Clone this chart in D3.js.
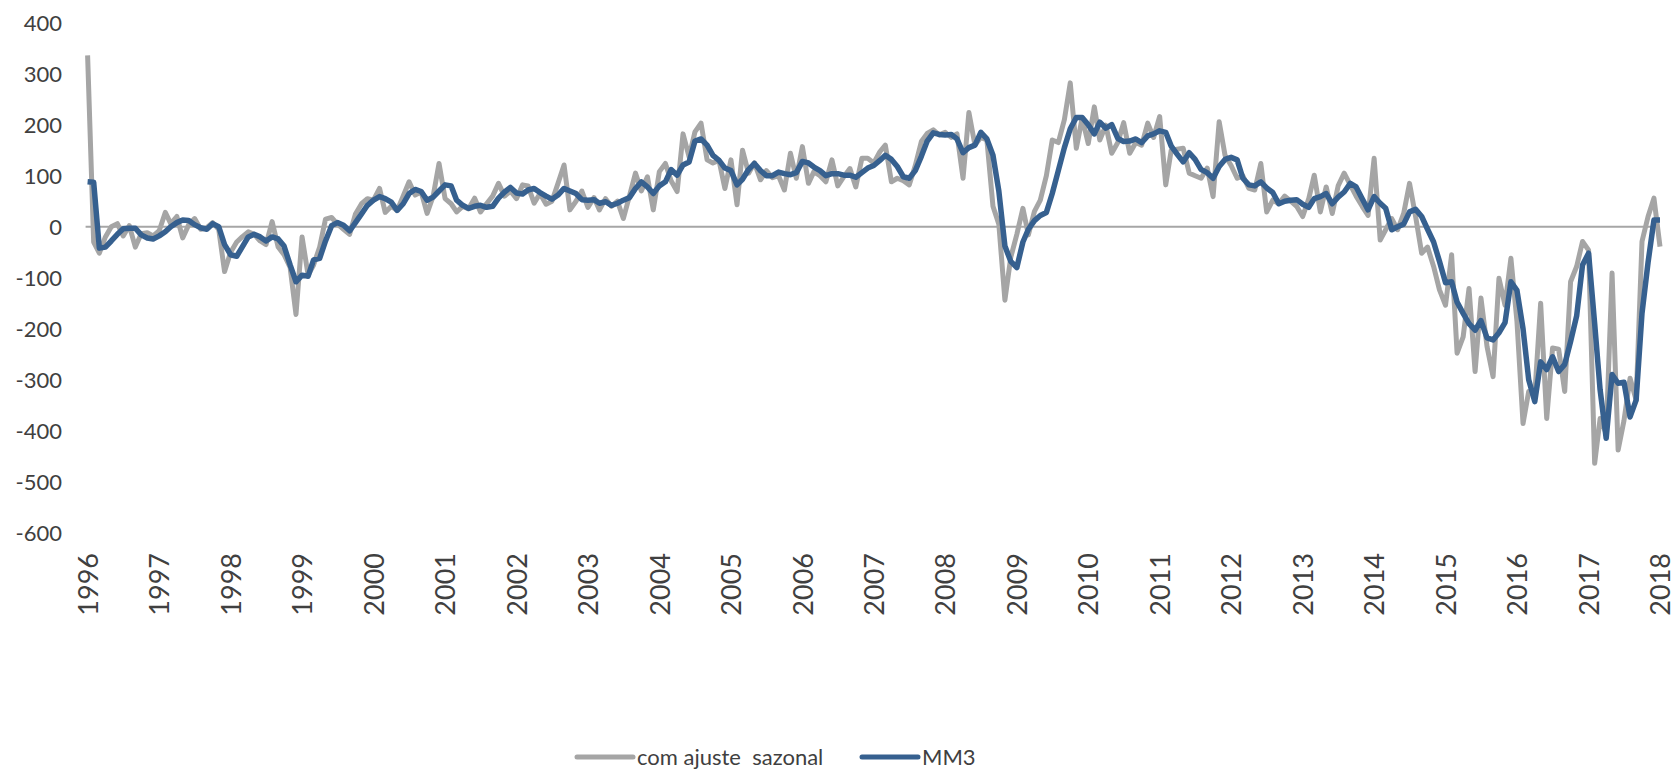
<!DOCTYPE html>
<html>
<head>
<meta charset="utf-8">
<script src="https://cdn.jsdelivr.net/npm/d3@7"></script>
<style>
  body{margin:0;background:#fff;}
  #svg{width:1676px;height:770px;display:block;}
  text{font-family:Lato,"Open Sans",sans-serif;fill:#404040;}
</style>
</head>
<body>
<svg id="svg" width="1676" height="770"></svg>
<script>
// monthly values, Jan 1996 .. Jan 2018
var startYear = 1996;
var yearTicks = d3.range(1996, 2019);
var yTicks = [400, 300, 200, 100, 0, -100, -200, -300, -400, -500, -600];
var seriesNames = ["com ajuste  sazonal", "MM3"];

var ajusteSazonal = [
  336, -30, -52, -20, 0, 6, -18, 2, -40, -14, -12, -18,
  -8, 28, 6, 20, -22, 4, 16, -5, -2, 8, -5, -88,
  -50, -30, -20, -10, -15, -28, -35, 10, -40, -55, -80, -172,
  -20, -95, -75, -40, 15, 18, 5, -5, -15, 25, 45, 55,
  52, 75, 28, 40, 32, 60, 88, 62, 68, 26, 60, 124,
  55, 45, 29, 40, 35, 56, 29, 45, 60, 85, 60, 70,
  55, 82, 80, 46, 65, 44, 50, 85, 121, 33, 50, 70,
  38, 57, 33, 55, 40, 50, 16, 60, 105, 70, 98, 33,
  108, 124, 90, 69, 182, 137, 186, 203, 131, 125, 130, 75,
  131, 43, 150, 105, 125, 92, 110, 96, 100, 72, 144, 95,
  157, 85, 108, 100, 88, 131, 80, 98, 114, 78, 134, 134,
  125, 147, 160, 88, 95, 90, 82, 120, 167, 183, 190, 180,
  185, 175, 182, 95, 224, 160, 175, 170, 40, 5, -144, -60,
  -15, 36, -16, 30, 52, 100, 170, 165, 210, 282, 154, 213,
  163, 235, 170, 199, 144, 165, 204, 144, 165, 160, 203, 175,
  216, 82, 150, 152, 154, 105, 100, 95, 115, 59, 206, 140,
  120, 95, 100, 75, 72, 124, 29, 52, 45, 60, 50, 40,
  20, 55, 101, 29, 78, 26, 80, 105, 82, 60, 40, 22,
  134, -26, -6, 16, -6, 26, 85, 20, -52, -40, -78, -124,
  -154, -55, -248, -216, -121, -284, -140, -235, -294, -101, -154, -62,
  -186, -386, -323, -330, -150, -376, -238, -240, -323, -108, -78, -29,
  -46, -464, -376, -405, -91, -438, -380, -297, -340, -29, 20, 56,
  -39
];

var mm3 = [
  88, 87, -42, -40, -28, -15, -4, -3, -3, -16, -22, -24,
  -18, -10, 0, 8, 13, 12, 4, -2, -5, 6, 0, -35,
  -55, -58, -40, -20, -15, -20, -28, -20, -24, -38, -75, -108,
  -95, -97, -65, -62, -28, 2, 8, 3, -8, 8, 25, 42,
  52, 59, 55, 48, 32, 45, 65, 73, 69, 52, 58, 70,
  82, 80, 52, 42, 36, 40, 42, 38, 40, 56, 68, 77,
  66, 64, 72, 75, 67, 60, 54, 62, 75, 70, 65, 53,
  52, 53, 46, 49, 42, 46, 52, 57, 75, 88, 78, 65,
  80, 88, 112, 101, 121, 127, 168, 172, 160, 140, 130, 115,
  110, 82, 93, 112, 124, 110, 100, 100, 107, 104, 102, 106,
  128, 125, 117, 110, 100, 104, 104, 101, 101, 97, 106, 115,
  120, 130, 140, 132, 118, 98, 95, 110, 138, 168, 184, 181,
  180, 181, 172, 145, 155, 160, 185, 172, 140, 70, -38, -68,
  -80, -30, -5, 12, 22, 28, 65, 110, 155, 192, 214, 214,
  200, 182, 205, 193, 200, 173, 167, 168, 172, 165, 178, 182,
  188, 185, 158, 142, 127, 145, 132, 112, 106, 95, 118, 132,
  136, 131, 95, 82, 80, 88, 76, 67, 45, 50, 52, 53,
  44, 38, 55, 59, 65, 45, 58, 68, 85, 78, 55, 33,
  59, 46, 36, -6, 0, 5, 29, 34, 20, -5, -30, -68,
  -110, -108, -148, -170, -190, -203, -184, -218, -222, -208, -188, -108,
  -125, -200, -300, -343, -265, -280, -255, -284, -270, -225, -175, -75,
  -52, -190, -320, -415, -290, -307, -305, -373, -340, -170, -70, 13,
  13
];

var svg = d3.select('#svg');

var xScale = d3.scaleUtc()
    .domain([new Date(Date.UTC(1996, 0, 1)), new Date(Date.UTC(2018, 0, 1))])
    .range([87.6, 1660]);

var yScale = d3.scaleLinear()
    .domain([-600, 400])
    .range([532.7, 22.7]);

function monthDate(i){
    return new Date(Date.UTC(startYear + Math.floor(i / 12), i % 12, 1));
}

// y axis: labels only, plain hyphen minus like the original
var yAxis = svg.append('g')
    .attr('transform', 'translate(62,0)')
    .call(d3.axisLeft(yScale).tickValues(yTicks)
        .tickFormat(function(d){ return String(d); })
        .tickSize(0).tickPadding(0));
yAxis.select('.domain').remove();
yAxis.selectAll('text')
    .attr('font-size', 22)
    .attr('font-family', 'Lato, sans-serif')
    .attr('fill', '#404040')
    .attr('dy', '0.36em');

// x axis: rotated year labels
var xAxis = svg.append('g')
    .attr('transform', 'translate(0,553)')
    .call(d3.axisBottom(xScale)
        .tickValues(yearTicks.map(function(y){ return new Date(Date.UTC(y, 0, 1)); }))
        .tickFormat(d3.utcFormat('%Y'))
        .tickSize(0).tickPadding(0));
xAxis.select('.domain').remove();
xAxis.selectAll('text')
    .attr('font-size', 27)
    .attr('font-family', 'Lato, sans-serif')
    .attr('fill', '#404040')
    .attr('text-anchor', 'end')
    .attr('transform', 'rotate(-90)')
    .attr('x', 0)
    .attr('y', 0)
    .attr('dy', '0.36em');

// zero line
svg.append('line')
    .attr('x1', xScale.range()[0] - 2)
    .attr('x2', xScale.range()[1])
    .attr('y1', yScale(0))
    .attr('y2', yScale(0))
    .attr('stroke', '#a6a6a6')
    .attr('stroke-width', 2);

var line = d3.line()
    .x(function(d, i){ return xScale(monthDate(i)); })
    .y(function(d){ return yScale(d); });

svg.append('path')
    .datum(ajusteSazonal)
    .attr('d', line)
    .attr('fill', 'none')
    .attr('stroke', '#a5a5a5')
    .attr('stroke-width', 5)
    .attr('stroke-linejoin', 'round');

svg.append('path')
    .datum(mm3)
    .attr('d', line)
    .attr('fill', 'none')
    .attr('stroke', '#36608f')
    .attr('stroke-width', 5.5)
    .attr('stroke-linejoin', 'round');

// legend
var legend = svg.append('g').attr('transform', 'translate(0,757)');
var legendItems = [
    {name: seriesNames[0], color: '#a5a5a5', x: 577},
    {name: seriesNames[1], color: '#36608f', x: 862}
];
legendItems.forEach(function(it){
    legend.append('line')
        .attr('x1', it.x).attr('x2', it.x + 56)
        .attr('y1', 0).attr('y2', 0)
        .attr('stroke', it.color)
        .attr('stroke-width', 5)
        .attr('stroke-linecap', 'round');
    legend.append('text')
        .attr('x', it.x + 60)
        .attr('y', 0)
        .attr('dy', '0.36em')
        .attr('font-size', 22)
        .style('white-space', 'pre')
        .text(it.name);
});
</script>
</body>
</html>
